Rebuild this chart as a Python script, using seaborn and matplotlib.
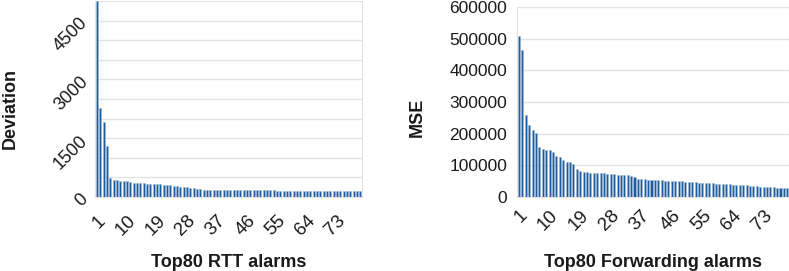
import matplotlib
matplotlib.use("Agg")
import matplotlib.pyplot as plt
import seaborn as sns
import pandas as pd

# top 80 RTT alarms (deviation)
deviation = [5000, 2266, 1910, 1290, 492, 441, 433, 416, 407, 400,
             373, 357, 348, 348, 345, 340, 331, 331, 331, 322,
             314, 314, 306, 289, 272, 263, 255, 246, 229, 221,
             204, 192, 188, 186, 185, 184, 183, 182, 181, 180,
             179, 178, 177, 176, 175, 175, 174, 173, 172, 171,
             170, 169, 168, 167, 166, 165, 164, 163, 162, 161,
             160, 159, 158, 157, 156, 155, 154, 153, 152, 151,
             150, 149, 148, 147, 146, 145, 144, 143, 142, 141]

# top 80 forwarding alarms (MSE)
mse = [508000, 464000, 259000, 228000, 212000, 202000, 159000, 151000, 149000, 148000,
       143000, 130000, 127000, 117000, 111000, 110000, 105000, 89000, 81000, 79000,
       78000, 77000, 76000, 76000, 75000, 75000, 74000, 74000, 73000, 71000,
       70000, 70000, 68000, 65000, 62000, 58000, 57000, 56000, 55000, 54000,
       54000, 53000, 53000, 52000, 52000, 51000, 51000, 50000, 50000, 49000,
       48000, 47000, 46000, 45000, 44000, 44000, 43000, 43000, 42000, 42000,
       41000, 40000, 40000, 39000, 38000, 38000, 37000, 37000, 36000, 35000,
       34000, 33000, 32000, 32000, 31000, 31000, 30000, 29000, 29000, 28000]

rank = list(range(1, 81))
xtick_labels = [str(r) if (r - 1) % 9 == 0 else "" for r in rank]

sns.set_style("white")
plt.rcParams['font.family'] = ['Liberation Sans', 'DejaVu Sans']
plt.rcParams['text.color'] = '#1a1a1a'
plt.rcParams['xtick.labelcolor'] = '#1a1a1a'
plt.rcParams['ytick.labelcolor'] = '#1a1a1a'

bar_color = "#1f5c9b"
grid_color = "#e3e3e3"

fig = plt.figure(figsize=(7.89, 2.71), dpi=100)
ax1 = fig.add_axes([0.1204, 0.273, 0.3384, 0.723])
ax2 = fig.add_axes([0.6553, 0.273, 0.3447, 0.701])

df1 = pd.DataFrame({"rank": rank, "value": deviation})
df2 = pd.DataFrame({"rank": rank, "value": mse})

sns.barplot(data=df1, x="rank", y="value", ax=ax1, color=bar_color,
            width=0.6, saturation=1, edgecolor="#9fbbd8", linewidth=0.4)
sns.barplot(data=df2, x="rank", y="value", ax=ax2, color=bar_color,
            width=0.6, saturation=1, edgecolor="#9fbbd8", linewidth=0.4)

# left chart axes
ax1.set_ylim(0, 5000)
ax1.set_yticks(range(0, 5001, 500))
ax1.set_yticklabels([str(v) if v % 1500 == 0 and v < 5000 else "" for v in range(0, 5001, 500)],
                    rotation=45, fontsize=13, ha="right", va="center",
                    rotation_mode="anchor")
ax1.set_ylabel("Deviation", fontsize=13, fontweight="bold", color="#1a1a1a")
ax1.yaxis.set_label_coords(-0.285, 0.45)

# right chart axes
ax2.set_ylim(0, 600000)
ax2.set_yticks(range(0, 600001, 100000))
ax2.set_yticklabels([str(v) for v in range(0, 600001, 100000)], fontsize=12.5)
ax2.set_ylabel("MSE", fontsize=13, fontweight="bold", color="#1a1a1a")
ax2.yaxis.set_label_coords(-0.335, 0.42)

for ax, xl in [(ax1, "Top80 RTT alarms"), (ax2, "Top80 Forwarding alarms")]:
    ax.set_xlim(-0.6, 79.5)
    ax.set_xticks(range(80))
    ax.set_xticklabels(xtick_labels, rotation=45, ha="right", rotation_mode="anchor",
                       fontsize=13.5)
    ax.set_xlabel(xl, fontsize=13, fontweight="bold", color="#1a1a1a")
    ax.yaxis.grid(True, color=grid_color, linewidth=1)
    ax.set_axisbelow(True)
    ax.tick_params(axis="both", length=5, color=grid_color, width=1, pad=2)
    for side in ["left", "right", "top", "bottom"]:
        ax.spines[side].set_color(grid_color)
    ax.spines["top"].set_visible(False)

ax1.tick_params(axis="x", pad=6)
ax1.xaxis.set_label_coords(0.5, -0.29)
ax2.xaxis.set_label_coords(0.5, -0.30)

fig.savefig("out.png", dpi=100)
